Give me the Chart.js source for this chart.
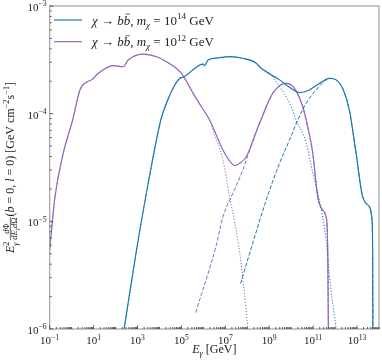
<!DOCTYPE html>
<html><head><meta charset="utf-8">
<script src="https://cdn.jsdelivr.net/npm/chart.js@4/dist/chart.umd.min.js"></script>
<style>html,body{margin:0;padding:0;background:#fff;}#wrap{width:382px;height:361px;}</style>
</head><body><div id="wrap"><canvas id="c" width="382" height="361"></canvas></div>
<script>
// ---- data (E in GeV, flux in GeV cm^-2 s^-1) ----
const m14TotalE = [245, 902, 3.27e3, 1.15e4, 2.08e4, 4.15e4, 8.38e4, 1.18e5, 6.79e5, 9.6e5, 1.15e6, 1.62e6, 4.47e6, 1.57e7, 6.11e7, 2.56e8, 4.33e8, 2.94e9, 8.38e9, 2.38e10, 5.69e10, 1.93e11, 5.51e11, 1.11e12, 2.21e12, 4.47e12, 9.02e12, 1.8e13, 3.62e13, 4.81e13, 5.12e13, 5.25e13];
const m14TotalFlux = [1e-6, 5.42e-6, 2.42e-5, 8.73e-5, 1.25e-4, 1.72e-4, 2.13e-4, 2.18e-4, 2.83e-4, 2.89e-4, 2.79e-4, 3.15e-4, 3.29e-4, 3.38e-4, 3.27e-4, 2.94e-4, 2.64e-4, 2.06e-4, 1.76e-4, 1.57e-4, 1.63e-4, 1.91e-4, 2.13e-4, 2.06e-4, 1.72e-4, 1.08e-4, 4.29e-5, 1.69e-5, 1.37e-5, 1.03e-5, 5.42e-6, 1e-6];
const m14PrimaryE = [245, 902, 3.27e3, 1.15e4, 2.08e4, 4.15e4, 8.38e4, 1.18e5, 6.79e5, 9.6e5, 1.15e6, 1.62e6, 4.47e6, 1.57e7, 6.11e7, 2.56e8, 2.94e8, 1.03e9, 2.94e9, 8.38e9, 1.69e10, 4.81e10, 9.6e10, 1.93e11, 3.89e11, 6.11e11, 1.11e12];
const m14PrimaryFlux = [1e-6, 5.42e-6, 2.42e-5, 8.73e-5, 1.25e-4, 1.72e-4, 2.13e-4, 2.18e-4, 2.83e-4, 2.89e-4, 2.79e-4, 3.15e-4, 3.29e-4, 3.38e-4, 3.27e-4, 2.94e-4, 2.8e-4, 2.37e-4, 1.78e-4, 1.26e-4, 8.73e-5, 5.35e-5, 2.81e-5, 1.58e-5, 6.71e-6, 2.56e-6, 1.02e-6];
const m14SecondaryE = [4.95e7, 1.57e8, 7.31e8, 2.94e9, 8.38e9, 2.0e10, 4.81e10, 1.37e11, 3.89e11, 5.51e11, 1.11e12, 2.21e12, 4.47e12, 9.02e12, 1.8e13, 3.62e13, 4.81e13, 5.12e13, 5.25e13];
const m14SecondaryFlux = [2.65e-6, 5.78e-6, 1.58e-5, 3.46e-5, 5.69e-5, 8.73e-5, 1.25e-4, 1.66e-4, 2.06e-4, 2.13e-4, 2.06e-4, 1.72e-4, 1.08e-4, 4.29e-5, 1.69e-5, 1.37e-5, 1.03e-5, 5.42e-6, 1e-6];

const m12TotalE = [0.1, 0.174, 0.415, 1.11, 2.38, 5.12, 8.11, 16.2, 77.8, 221, 374, 1.8e3, 7.31e3, 2.08e4, 1e5, 3.37e5, 8.11e5, 1.93e6, 7.78e6, 2.0e7, 2.9e7, 4.0e7, 9.02e7, 3.62e8, 1.46e9, 5.93e9, 1.41e10, 3.37e10, 4.81e10, 9.6e10, 1.62e11, 2.73e11, 3.89e11, 4.61e11, 4.95e11];
const m12TotalFlux = [5.42e-6, 1.69e-5, 4.29e-5, 8.73e-5, 1.66e-4, 1.98e-4, 2.06e-4, 2.37e-4, 2.79e-4, 2.73e-4, 3.15e-4, 3.58e-4, 3.38e-4, 3.04e-4, 2.37e-4, 1.55e-4, 1.16e-4, 8.73e-5, 4.6e-5, 3.42e-5, 3.3e-5, 3.42e-5, 3.98e-5, 8.13e-5, 1.55e-4, 1.91e-4, 1.72e-4, 1.16e-4, 8.73e-5, 4.29e-5, 1.69e-5, 1.27e-5, 1.1e-5, 5.42e-6, 1e-6];
const m12PrimaryE = [0.1, 0.174, 0.415, 1.11, 2.38, 5.12, 8.11, 16.2, 77.8, 221, 374, 1.8e3, 7.31e3, 2.08e4, 1e5, 3.37e5, 8.11e5, 1.93e6, 2.73e6, 7.78e6, 1.57e7, 2.65e7, 4.47e7, 6.79e7, 1.06e8];
const m12PrimaryFlux = [5.42e-6, 1.69e-5, 4.29e-5, 8.73e-5, 1.66e-4, 1.98e-4, 2.06e-4, 2.37e-4, 2.79e-4, 2.73e-4, 3.15e-4, 3.58e-4, 3.38e-4, 3.04e-4, 2.37e-4, 1.55e-4, 1.16e-4, 8.73e-5, 7.05e-5, 3.72e-5, 1.69e-5, 9.86e-6, 5.19e-6, 2.56e-6, 1.02e-6];
const m12SecondaryE = [4.47e5, 3.89e6, 7.78e6, 2.21e7, 6.31e7, 1.8e8, 3.62e8, 1.46e9, 5.93e9, 1.41e10, 3.37e10, 4.81e10, 9.6e10, 1.62e11, 2.73e11, 3.89e11, 4.61e11, 4.95e11];
const m12SecondaryFlux = [1.42e-6, 6.03e-6, 1.1e-5, 1.82e-5, 3.0e-5, 5.69e-5, 8.13e-5, 1.55e-4, 1.91e-4, 1.72e-4, 1.16e-4, 8.73e-5, 4.29e-5, 1.69e-5, 1.27e-5, 1.1e-5, 5.42e-6, 1e-6];

const xLabelExponents = ['\u22121', '1', '3', '5', '7', '9', '11', '13'];
const yLabelExponents = ['\u22126', '\u22125', '\u22124', '\u22123'];
const legendMassExponents = ['14', '12'];

const BLUE = '#1f77b4', PURPLE = '#9467bd';
const SERIF = '"Liberation Serif", "Times New Roman", serif';

function pts(E, F) { return E.map((e, i) => ({ x: e, y: F[i] })); }
function decadeTicks(lo, hi) {
  const out = [];
  for (let p = lo; p <= hi; p++) for (let m = 1; m <= 9; m++) {
    const v = m * Math.pow(10, p);
    if (v <= Math.pow(10, hi) * 1.0001) out.push({ value: v });
  }
  return out;
}

// ---- rich text helpers ----
function fnt(size, it) { return (it ? 'italic ' : '') + size.toFixed(2) + 'px ' + SERIF; }
function segW(ctx, s, base) {
  if (s.frac) return Math.max(runW(ctx, s.frac[0], base), runW(ctx, s.frac[1], base)) + 2;
  if (s.stack) return Math.max(runW(ctx, s.stack[0], base), runW(ctx, s.stack[1], base));
  ctx.font = fnt(base * (s.s || 1), s.i); return ctx.measureText(s.t).width;
}
function runW(ctx, segs, base) { return segs.reduce((a, s) => a + segW(ctx, s, base), 0); }
function drawRun(ctx, segs, x, y, base) {
  for (const s of segs) {
    const w = segW(ctx, s, base);
    if (s.frac) {
      const barY = y - base * 0.3;
      const wn = runW(ctx, s.frac[0], base), wd = runW(ctx, s.frac[1], base);
      drawRun(ctx, s.frac[0], x + (w - wn) / 2, barY - 1.8, base);
      drawRun(ctx, s.frac[1], x + (w - wd) / 2, barY + base * 0.55, base);
      ctx.save(); ctx.lineWidth = 0.7; ctx.beginPath(); ctx.moveTo(x + 0.5, barY); ctx.lineTo(x + w - 0.5, barY); ctx.stroke(); ctx.restore();
    } else if (s.stack) {
      drawRun(ctx, s.stack[0], x, y, base);
      drawRun(ctx, s.stack[1], x, y, base);
    } else {
      const size = base * (s.s || 1);
      ctx.font = fnt(size, s.i);
      ctx.textBaseline = 'alphabetic'; ctx.textAlign = 'left';
      const yy = y + (s.dy || 0) * base;
      ctx.fillText(s.t, x, yy);
      if (s.bar) {
        ctx.save(); ctx.lineWidth = 0.7; ctx.beginPath();
        ctx.moveTo(x + w * 0.25, yy - size * 0.8); ctx.lineTo(x + w * 0.95, yy - size * 0.8); ctx.stroke(); ctx.restore();
      }
    }
    x += w;
  }
  return x;
}
function pow10Segs(exp) { return [{ t: '10' }, { t: exp, s: 0.7, dy: -0.42 }]; }

const decor = {
  id: 'decor',
  afterDatasetsDraw(chart) {
    const ctx = chart.ctx, ca = chart.chartArea, xs = chart.scales.x, ys = chart.scales.y;
    ctx.save();
    ctx.fillStyle = '#222'; ctx.strokeStyle = '#222';
    // frame
    ctx.strokeStyle = '#9a9a9a'; ctx.lineWidth = 1.1;
    ctx.strokeRect(ca.left, ca.top, ca.right - ca.left, ca.bottom - ca.top);
    // ticks (inward)
    ctx.strokeStyle = '#333'; ctx.lineWidth = 0.8;
    const isMajor = (v, odd) => { const l = Math.log10(v); const r = Math.round(l); return Math.abs(l - r) < 1e-6 && (odd ? Math.abs(r % 2) === 1 : true); };
    ctx.beginPath();
    xs.ticks.forEach(t => {
      const px = xs.getPixelForValue(t.value); const len = isMajor(t.value, true) ? 3.5 : 2;
      ctx.moveTo(px, ca.bottom); ctx.lineTo(px, ca.bottom - len);
    });
    ys.ticks.forEach(t => {
      const py = ys.getPixelForValue(t.value); const len = isMajor(t.value, false) ? 3.5 : 2;
      ctx.moveTo(ca.left, py); ctx.lineTo(ca.left + len, py);
    });
    ctx.stroke();
    // tick labels
    ctx.fillStyle = '#222';
    const tb = 11;
    xLabelExponents.forEach(e => {
      const v = Math.pow(10, Number(e.replace('\u2212', '-')));
      const px = xs.getPixelForValue(v); const segs = pow10Segs(e);
      const w = runW(ctx, segs, tb); drawRun(ctx, segs, px - w / 2, ca.bottom + 15.3, tb);
    });
    yLabelExponents.forEach(e => {
      const v = Math.pow(10, Number(e.replace('\u2212', '-')));
      const py = ys.getPixelForValue(v); const segs = pow10Segs(e);
      const w = runW(ctx, segs, tb); drawRun(ctx, segs, ca.left - 3 - w, py + 5, tb);
    });
    // x title
    const lb = 12;
    const xt = [{ t: 'E', i: true }, { t: '\u03b3', i: true, s: 0.7, dy: 0.25 }, { t: ' [GeV]' }];
    const xw = runW(ctx, xt, lb); drawRun(ctx, xt, (ca.left + ca.right) / 2 - xw / 2, 353, lb);
    // y title
    const yt = [
      { t: 'E', i: true },
      { stack: [[{ t: '2', s: 0.7, dy: -0.42 }], [{ t: '\u03b3', i: true, s: 0.7, dy: 0.3 }]] },
      { t: ' ', s: 0.3 },
      { frac: [[{ t: 'd', i: true, s: 0.7 }, { t: '\u03a6', s: 0.7 }], [{ t: 'dE', i: true, s: 0.7 }, { t: '\u03b3', i: true, s: 0.5, dy: 0.15 }, { t: 'd', i: true, s: 0.7 }, { t: '\u03a9', s: 0.7 }]] },
      { t: '(' }, { t: 'b', i: true }, { t: ' = 0, ' }, { t: 'l', i: true }, { t: ' = 0) [GeV cm' },
      { t: '\u22122', s: 0.7, dy: -0.42 }, { t: 's' }, { t: '\u22121', s: 0.7, dy: -0.42 }, { t: ']' }
    ];
    const yw = runW(ctx, yt, lb);
    ctx.save(); ctx.translate(14, (ca.top + ca.bottom) / 2); ctx.rotate(-Math.PI / 2);
    drawRun(ctx, yt, -yw / 2, 0, lb); ctx.restore();
    // legend
    const lg = 13;
    [[BLUE, legendMassExponents[0], 20], [PURPLE, legendMassExponents[1], 41.7]].forEach(([col, ex, y]) => {
      ctx.strokeStyle = col; ctx.lineWidth = 1.2; ctx.beginPath(); ctx.moveTo(54, y); ctx.lineTo(82, y); ctx.stroke();
      ctx.strokeStyle = '#222'; ctx.fillStyle = '#222';
      const segs = [{ t: '\u03c7', i: true }, { t: ' \u2192 ' }, { t: 'b', i: true }, { t: 'b', i: true, bar: true }, { t: ', ' },
        { t: 'm', i: true }, { t: '\u03c7', i: true, s: 0.7, dy: 0.25 }, { t: ' = 10' }, { t: ex, s: 0.7, dy: -0.42 }, { t: ' GeV' }];
      drawRun(ctx, segs, 92, y + 4.5, lg);
    });
    ctx.restore();
  }
};

const ds = (label, E, F, col, dash, w) => ({
  label, data: pts(E, F), borderColor: col, borderWidth: w, borderDash: dash,
  pointRadius: 0, fill: false, cubicInterpolationMode: 'monotone'
});

new Chart(document.getElementById('c'), {
  type: 'line',
  data: {
    datasets: [
      ds('m14 total', m14TotalE, m14TotalFlux, BLUE, [], 1.2),
      ds('m14 primary', m14PrimaryE, m14PrimaryFlux, BLUE, [1.2, 1.8], 1.0),
      ds('m14 secondary', m14SecondaryE, m14SecondaryFlux, BLUE, [4, 1.8], 1.0),
      ds('m12 total', m12TotalE, m12TotalFlux, PURPLE, [], 1.2),
      ds('m12 primary', m12PrimaryE, m12PrimaryFlux, PURPLE, [1.2, 1.8], 1.0),
      ds('m12 secondary', m12SecondaryE, m12SecondaryFlux, PURPLE, [4, 1.8], 1.0)
    ]
  },
  options: {
    responsive: false, animation: false, devicePixelRatio: 1,
    layout: { padding: { left: 0, right: 3, top: 6, bottom: 0 } },
    plugins: { legend: { display: false }, tooltip: { enabled: false } },
    scales: {
      x: {
        type: 'logarithmic', min: 0.1, max: 1e14,
        grid: { display: false }, border: { display: false }, ticks: { display: false },
        afterBuildTicks: s => { s.ticks = decadeTicks(-1, 14); },
        afterFit: s => { s.height = 32; }
      },
      y: {
        type: 'logarithmic', min: 1e-6, max: 1e-3,
        grid: { display: false }, border: { display: false }, ticks: { display: false },
        afterBuildTicks: s => { s.ticks = decadeTicks(-6, -3); },
        afterFit: s => { s.width = 49.7; }
      }
    }
  },
  plugins: [decor]
});
</script></body></html>
